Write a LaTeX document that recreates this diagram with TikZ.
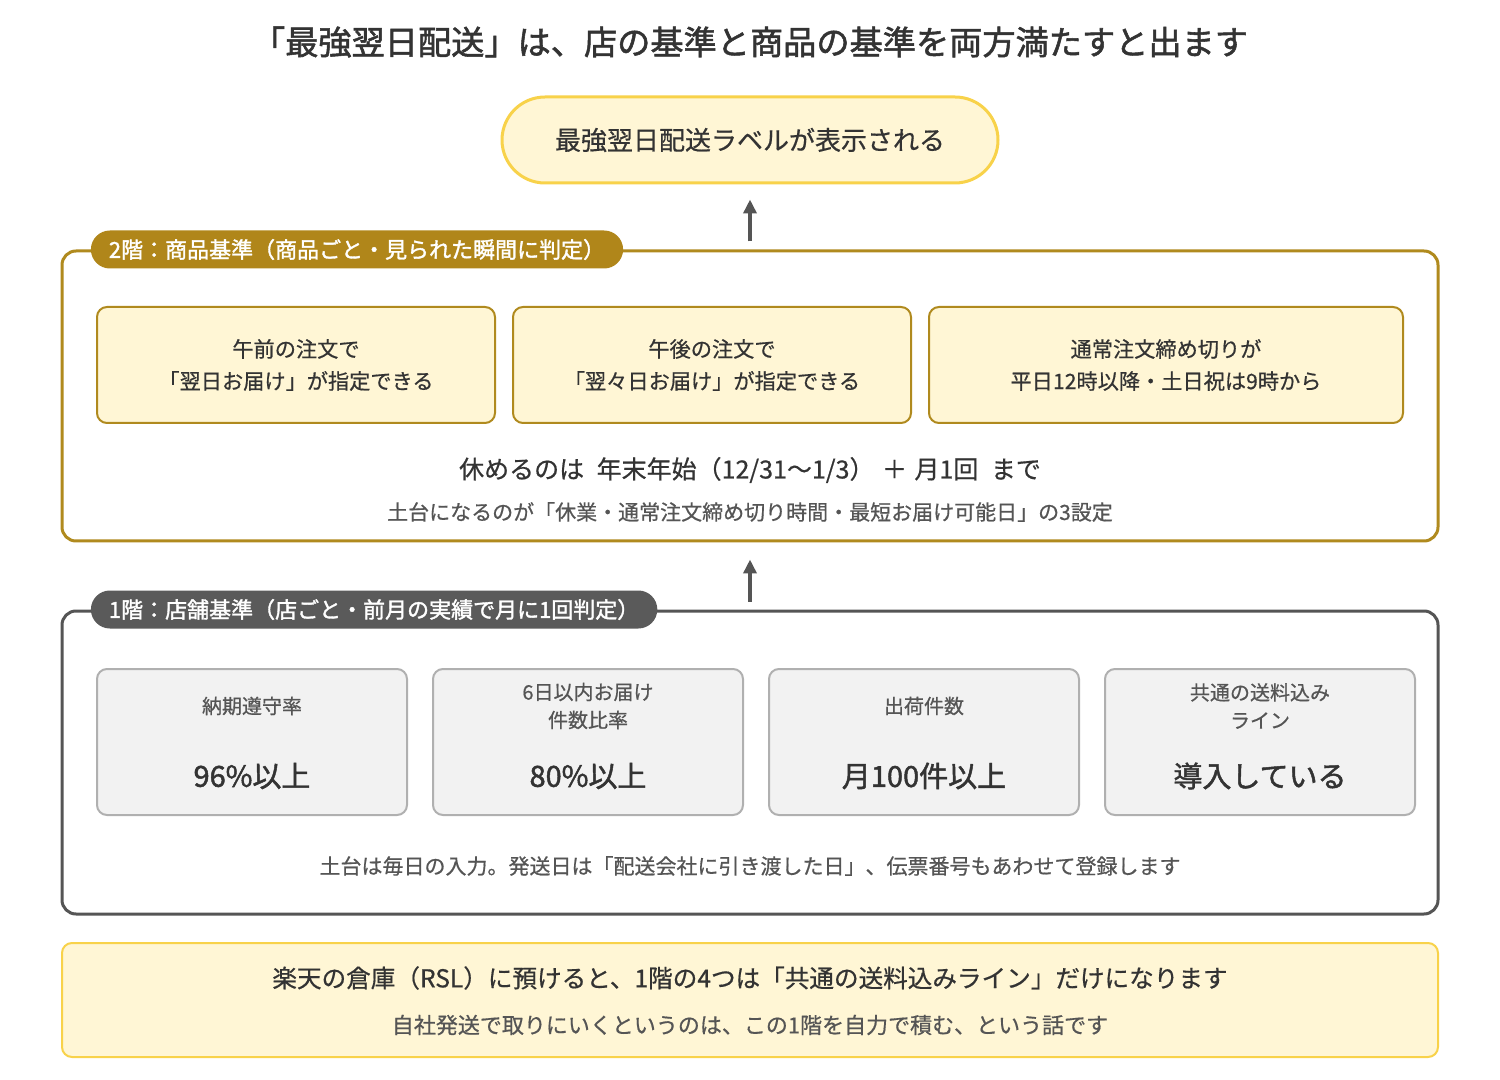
\documentclass[tikz,border=0pt]{standalone}
\usepackage{fontspec}
\setmainfont{Noto Sans CJK JP}[UprightFeatures={FakeBold=0.6}]
\newfontfamily\heavyfont{Noto Sans CJK JP}[UprightFeatures={FakeBold=1.6}]
\usetikzlibrary{positioning,arrows.meta}

\definecolor{ink}{HTML}{333333}
\definecolor{softink}{HTML}{555555}
\definecolor{goldline}{HTML}{B08A1E}
\definecolor{goldfill}{HTML}{B0861A}
\definecolor{sunline}{HTML}{F8D24A}
\definecolor{cream}{HTML}{FFF6D5}
\definecolor{slate}{HTML}{5A5A5A}
\definecolor{paper}{HTML}{F2F2F2}
\definecolor{pebble}{HTML}{B0B0B0}

\tikzset{
	headline/.style={font=\heavyfont\fontsize{16.6pt}{20pt}\selectfont, text=ink},
	goalpill/.style={draw=sunline, fill=cream, line width=1.5pt, rounded corners=21.5pt,
		minimum width=248pt, minimum height=43pt, font=\fontsize{13pt}{16pt}\selectfont, text=ink},
	floorframe/.style={draw, fill=white, line width=1.5pt, rounded corners=7pt,
		minimum width=688pt},
	floortag/.style={anchor=west, rounded corners=9.5pt, minimum height=19pt, inner xsep=9pt,
		inner ysep=0pt, text=white, font=\heavyfont\fontsize{11pt}{13pt}\selectfont},
	rulebox/.style={draw=goldline, fill=cream, line width=1pt, rounded corners=5pt,
		minimum height=58pt, align=center, text=ink, font=\fontsize{10.6pt}{16pt}\selectfont},
	storebox/.style={draw=pebble, fill=paper, line width=1pt, rounded corners=5pt,
		minimum width=155pt, minimum height=73pt},
	storelabel/.style={align=center, text=softink, font=\fontsize{10pt}{14pt}\selectfont},
	storevalue/.style={text=ink, font=\heavyfont\fontsize{14.5pt}{18pt}\selectfont},
	mainnote/.style={text=ink, font=\fontsize{12.5pt}{16pt}\selectfont},
	subnote/.style={text=softink, font=\fontsize{10.5pt}{14pt}\selectfont},
	uparrow/.style={draw=softink, line width=2pt, -{Triangle[length=7pt,width=6.5pt]}},
}

\begin{document}
\begin{tikzpicture}[x=0.5pt,y=-0.5pt]
	\useasboundingbox[fill=white] (0,0) rectangle (1500,1080);

	\node[headline] (title) at (750,42) {「最強翌日配送」は、店の基準と商品の基準を両方満たすと出ます};
	\node[goalpill] (goal) at (750,140) {最強翌日配送ラベルが表示される};

	% 2nd floor
	\node[floorframe, draw=goldline, minimum height=145pt] (floor2) at (750,396) {};
	\node[floortag, fill=goldfill] (tag2) at ([xshift=15pt]floor2.north west) {2階：商品基準（商品ごと・見られた瞬間に判定）};

	\node[rulebox, minimum width=199pt] (morning) at (296,365) {午前の注文で\\「翌日お届け」が指定できる};
	\node[rulebox, minimum width=199pt] (afternoon) at (712,365) {午後の注文で\\「翌々日お届け」が指定できる};
	\node[rulebox, minimum width=237pt] (cutoff) at (1166,365) {通常注文締め切りが\\平日12時以降・土日祝は9時から};

	\node[mainnote] (holiday) at (750,470) {休めるのは\hspace{0.5em}年末年始（12/31～1/3）\hspace{0.3em}＋\hspace{0.3em}月1回\hspace{0.5em}まで};
	\node[subnote] (base2) at (750,512) {土台になるのが「休業・通常注文締め切り時間・最短お届け可能日」の3設定};

	% 1st floor
	\node[floorframe, draw=softink, minimum height=151.5pt] (floor1) at (750,762.5) {};
	\node[floortag, fill=slate] (tag1) at ([xshift=15pt]floor1.north west) {1階：店舗基準（店ごと・前月の実績で月に1回判定）};

	\node[storebox] (ontime) at (252,742) {};
	\node[storebox] (sixday) at (588,742) {};
	\node[storebox] (volume) at (924,742) {};
	\node[storebox] (shipline) at (1260,742) {};

	\node[storelabel] at ([yshift=18pt]ontime.center) {納期遵守率};
	\node[storevalue] at ([yshift=-17pt]ontime.center) {96\%以上};
	\node[storelabel] at ([yshift=18pt]sixday.center) {6日以内お届け\\件数比率};
	\node[storevalue] at ([yshift=-17pt]sixday.center) {80\%以上};
	\node[storelabel] at ([yshift=18pt]volume.center) {出荷件数};
	\node[storevalue] at ([yshift=-17pt]volume.center) {月100件以上};
	\node[storelabel] at ([yshift=18pt]shipline.center) {共通の送料込み\\ライン};
	\node[storevalue] at ([yshift=-17pt]shipline.center) {導入している};

	\node[subnote] (base1) at (750,866) {土台は毎日の入力。発送日は「配送会社に引き渡した日」、伝票番号もあわせて登録します};

	% warehouse note
	\node[draw=sunline, fill=cream, line width=1pt, rounded corners=5pt,
		minimum width=688pt, minimum height=57pt] (rsl) at (750,1000) {};
	\node[mainnote, font=\fontsize{12.3pt}{16pt}\selectfont] (rslmain) at (750,978) {楽天の倉庫（RSL）に預けると、1階の4つは「共通の送料込みライン」だけになります};
	\node[subnote, font=\fontsize{11pt}{14pt}\selectfont] (rslsub) at (750,1025) {自社発送で取りにいくというのは、この1階を自力で積む、という話です};

	% arrows
	\draw[uparrow, shorten <=4pt, shorten >=7.5pt] (floor2.north) -- (goal.south);
	\draw[uparrow, shorten <=4pt, shorten >=8.5pt] (floor1.north) -- (floor2.south);
\end{tikzpicture}
\end{document}
